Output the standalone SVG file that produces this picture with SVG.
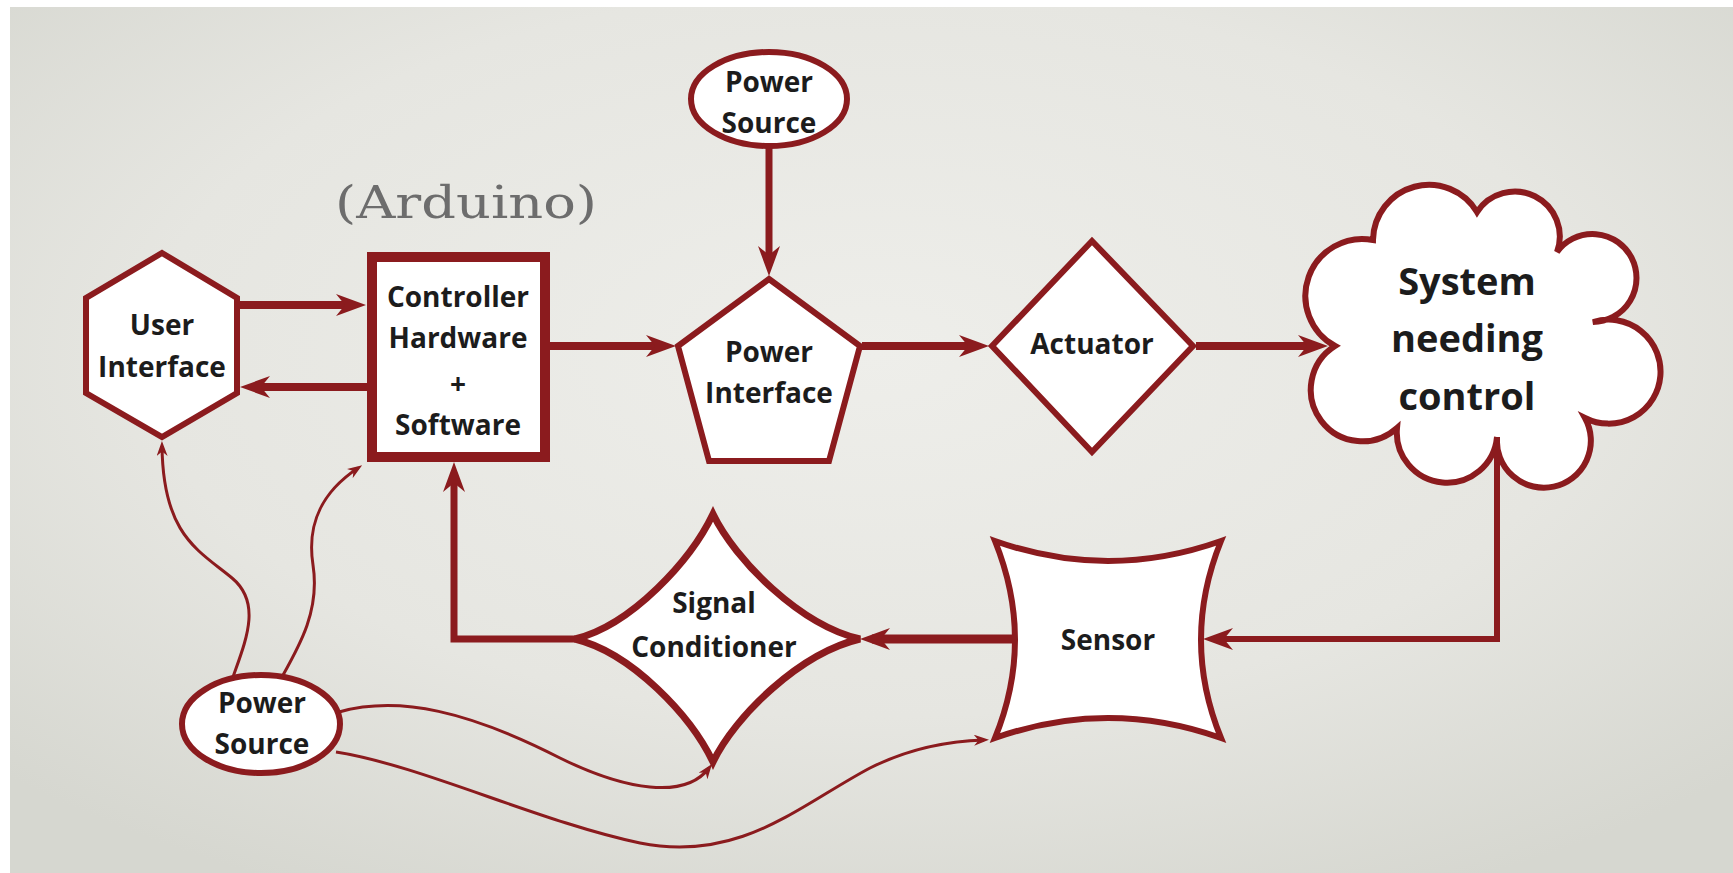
<svg xmlns="http://www.w3.org/2000/svg" width="1733" height="873" viewBox="0 0 1733 873">
<defs>
<radialGradient id="bg" cx="50%" cy="40%" r="70%">
<stop offset="0" stop-color="#eeeeea"/>
<stop offset="0.6" stop-color="#e6e6e1"/>
<stop offset="1" stop-color="#d6d7d0"/>
</radialGradient>
<marker id="head" viewBox="0 0 30 22" refX="18" refY="11" markerWidth="30" markerHeight="22" markerUnits="userSpaceOnUse" orient="auto"><path d="M0,0 L30,11 L0,22 L9,11 Z" fill="#8b1b1e"/></marker>
<marker id="small" viewBox="0 0 15 11" refX="10" refY="5.5" markerWidth="15" markerHeight="11" markerUnits="userSpaceOnUse" orient="auto"><path d="M0,0 L15,5.5 L0,11 L4.5,5.5 Z" fill="#8b1b1e"/></marker>
</defs>
<style>
.shape{fill:#ffffff;stroke:#8b1b1e;stroke-width:6;stroke-linejoin:miter}
.lbl{font-family:"Open Sans","Liberation Sans",sans-serif;font-weight:700;font-size:28px;fill:#1c1c1c;text-anchor:middle}
.big{font-size:38px}
.thick{fill:none;stroke:#8b1b1e;stroke-width:8;marker-end:url(#head)}
.thin{fill:none;stroke:#8b1b1e;stroke-width:3;marker-end:url(#small)}
</style>
<rect x="0" y="0" width="1733" height="873" fill="#ffffff"/>
<rect x="10" y="7" width="1723" height="866" fill="url(#bg)"/>

<text x="335" y="218" font-family="DejaVu Serif, Liberation Serif, serif" font-size="44" fill="#6d6d6d" textLength="262" lengthAdjust="spacingAndGlyphs">(Arduino)</text>

<g id="user-interface">
<polygon class="shape" points="162,253 237,298 237,393 162,437 86,393 86,298"/>
<text class="lbl" x="162" y="335">User</text>
<text class="lbl" x="162" y="377">Interface</text>
</g>

<g id="controller">
<rect class="shape" x="372" y="257" width="173" height="200" style="stroke-width:10"/>
<text class="lbl" x="458" y="307">Controller</text>
<text class="lbl" x="458" y="348">Hardware</text>
<text class="lbl" x="458" y="394">+</text>
<text class="lbl" x="458" y="435">Software</text>
</g>

<g id="power-source-top">
<ellipse class="shape" cx="769" cy="99" rx="78" ry="47"/>
<text class="lbl" x="769" y="92">Power</text>
<text class="lbl" x="769" y="133">Source</text>
</g>

<g id="power-interface">
<polygon class="shape" points="769,279 860,346 829,461 709,461 678,346"/>
<text class="lbl" x="769" y="362">Power</text>
<text class="lbl" x="769" y="403">Interface</text>
</g>

<g id="actuator">
<polygon class="shape" points="1092,241 1193,346 1092,452 992,346"/>
<text class="lbl" x="1092" y="354">Actuator</text>
</g>

<g id="system">
<path class="shape" d="M1335,346 A57,57 0 0 1 1373,240 A56,56 0 0 1 1477,212 A45,45 0 0 1 1557,252 A44,44 0 1 1 1593,322 A52,52 0 1 1 1585,418 A47,47 0 1 1 1497,437 A50.1,50.1 0 0 1 1397,428 A51.6,51.6 0 1 1 1335,346 Z"/>
<text class="lbl big" x="1467" y="295">System</text>
<text class="lbl big" x="1467" y="352">needing</text>
<text class="lbl big" x="1467" y="410">control</text>
</g>

<g id="sensor">
<path class="shape" d="M995,541 Q1108,581 1221,541 Q1181,640 1221,738 Q1108,698 995,738 Q1035,640 995,541 Z"/>
<text class="lbl" x="1108" y="650">Sensor</text>
</g>

<g id="signal-conditioner">
<path class="shape" d="M713,514 C735,560 800,625 860,639 C800,653 735,716 713,762 C691,716 632,653 575,639 C632,625 691,560 713,514 Z" style="stroke-width:7"/>
<text class="lbl" x="714" y="613">Signal</text>
<text class="lbl" x="714" y="657">Conditioner</text>
</g>

<g id="power-source-bottom">
<ellipse class="shape" cx="261" cy="724" rx="79" ry="49"/>
<text class="lbl" x="262" y="713">Power</text>
<text class="lbl" x="262" y="754">Source</text>
</g>

<g id="connectors">
<path class="thick" d="M237,305 H354"/>
<path class="thick" d="M367,387 H252"/>
<path class="thick" d="M550,346 H664"/>
<path class="thick" d="M769,146 V264" style="stroke-width:7"/>
<path class="thick" d="M862,346 H977"/>
<path class="thick" d="M1196,346 H1316"/>
<path class="thick" d="M1497,437 V639 H1215" style="stroke-width:6"/>
<path class="thick" d="M1015,639 H872" style="stroke-width:9"/>
<path class="thick" d="M575,639 H454 V474" style="stroke-width:7"/>
<path class="thin" d="M233,677 C246,640 262,603 232,578 C198,550 163,535 162,446"/>
<path class="thin" d="M282,677 C300,645 320,610 313,565 C306,520 325,490 358,468"/>
<path class="thin" d="M339,712 C400,695 470,712 560,758 C625,790 685,800 709,768"/>
<path class="thin" d="M336,752 C420,765 540,822 640,843 C740,863 800,805 870,768 C910,748 950,741 984,740"/>
</g>
</svg>
